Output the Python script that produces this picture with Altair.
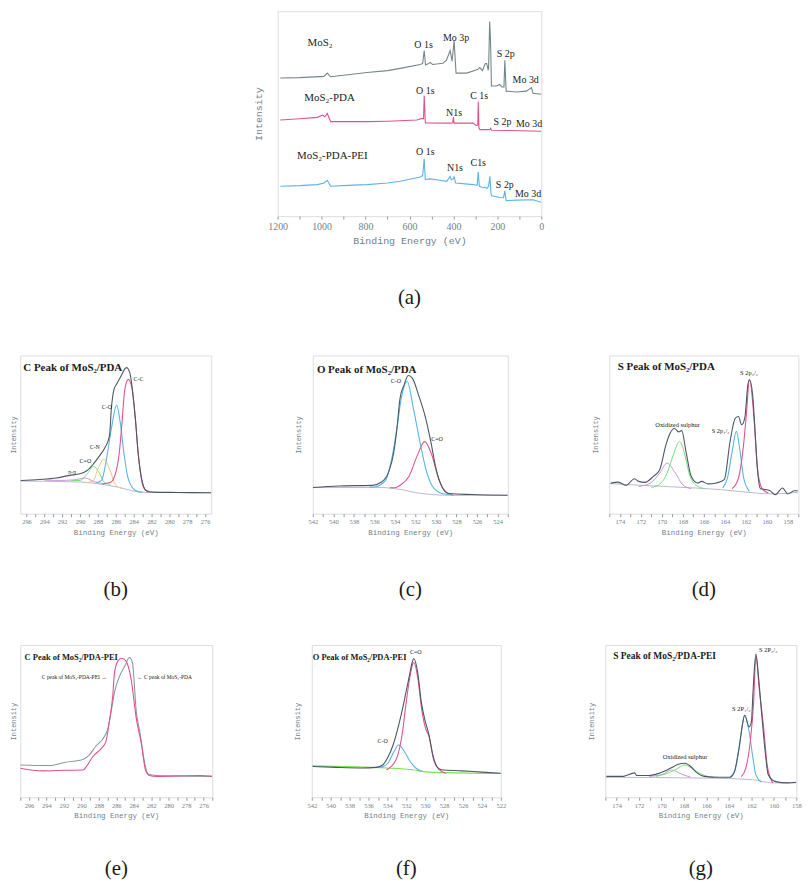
import altair as alt
import pandas as pd

SERIF = "Liberation Serif"
MONO = "Liberation Mono"
FRAME = "#8e9ba6"
AXTXT = "#6f7f8c"
INK = "#1a1a1a"

# ---------------- (a) survey spectra ----------------
a_mos2_E = [1188, 1100, 989, 974, 959, 880, 793, 700, 642, 551, 540, 533, 527, 515, 506, 495, 448, 432, 415, 406, 397, 388, 340, 290, 280, 268, 255, 249, 242, 240, 235, 231, 227, 204, 189, 180, 170, 166, 160, 113, 68, 45, 38, 0]
a_mos2_I = [67.4, 67.6, 68.2, 69.8, 68.0, 69.0, 70.1, 71.0, 72.1, 74.0, 74.5, 80.8, 73.8, 74.3, 75.0, 74.0, 74.6, 76.0, 80.8, 75.6, 85.5, 69.8, 69.8, 71.5, 72.5, 71.0, 74.5, 74.5, 71.5, 72.0, 95.0, 85.0, 63.5, 63.5, 64.3, 63.0, 63.0, 76.0, 61.0, 60.6, 61.0, 62.7, 60.0, 59.5]
a_pda_E = [1188, 1100, 1019, 996, 985, 974, 959, 880, 793, 700, 566, 544, 536, 533, 528, 527, 415, 403, 400, 397, 310, 300, 294, 289, 287, 284, 279, 234, 231, 226, 150, 0]
a_pda_I = [46.9, 47.5, 48.2, 49.3, 48.5, 50.1, 46.1, 46.2, 46.1, 46.3, 46.9, 47.7, 47.5, 58.7, 46.0, 45.5, 45.4, 45.6, 48.5, 45.4, 45.4, 44.5, 44.3, 44.5, 55.9, 43.0, 42.2, 42.2, 42.8, 41.9, 41.8, 41.4]
a_pei_E = [1188, 1100, 1019, 989, 974, 959, 880, 793, 700, 642, 551, 540, 533, 528, 520, 506, 470, 430, 415, 410, 400, 397, 390, 310, 292, 287, 282, 262, 257, 248, 240, 234, 229, 226, 189, 172, 166, 160, 113, 38, 0]
a_pei_I = [14.6, 14.9, 15.4, 16.2, 17.5, 14.6, 15.0, 15.4, 16.2, 17.0, 19.1, 19.8, 28.0, 17.8, 18.0, 18.2, 17.6, 17.0, 19.4, 17.8, 18.2, 19.4, 16.2, 15.4, 15.0, 21.7, 14.6, 13.9, 14.2, 13.5, 14.5, 19.4, 11.0, 9.9, 9.1, 9.0, 12.3, 7.6, 7.8, 8.0, 6.8]
a_name_E = [1064, 1079, 1112]
a_name_I = [84.7, 57.5, 29.1]
a_name_T = ["MoS₂", "MoS₂-PDA", "MoS₂-PDA-PEI"]
a_peak_E = [536, 388, 162, 71, 528, 397, 283, 177, 56, 528, 393, 287, 166, 60]
a_peak_I = [83.6, 86.8, 78.9, 66.3, 61.0, 50.5, 58.4, 46.1, 45.0, 31.2, 23.3, 25.7, 15.0, 11.0]
a_peak_T = ["O 1s", "Mo 3p", "S 2p", "Mo 3d", "O 1s", "N1s", "C 1s", "S 2p", "Mo 3d", "O 1s", "N1s", "C1s", "S 2p", "Mo 3d"]

# ---------------- (b) C 1s of MoS2/PDA ----------------
b_env_E = [296.65, 294.5, 292.7, 291.2, 290.0, 289.2, 288.5, 287.8, 287.3, 286.7, 286.5, 286.2, 285.9, 285.5, 284.8, 284.45, 283.8, 283.5, 283.1, 282.6, 281.85, 279.0, 275.3]
b_env_I = [21.0, 21.6, 22.5, 24.2, 25.2, 27.3, 31.5, 36.7, 40.9, 49.3, 66.0, 78.6, 82.0, 86.0, 92.3, 89.5, 59.7, 38.8, 22.0, 14.7, 13.6, 13.4, 13.2]
b_cc_E = [287.5, 286.6, 286.0, 285.6, 285.3, 285.0, 284.6, 284.2, 283.8, 283.5, 283.1, 282.7, 282.2]
b_cc_I = [18.7, 19.8, 26.0, 38.8, 57.6, 78.0, 84.9, 79.7, 59.7, 38.8, 21.0, 15.0, 13.6]
b_co_E = [288.2, 287.6, 287.1, 286.5, 285.9, 285.5, 285.1, 284.6, 283.8, 283.0]
b_co_I = [19.5, 21.0, 32.5, 53.5, 68.6, 57.7, 38.8, 22.0, 14.7, 13.5]
b_cn_E = [289.3, 288.5, 288.0, 287.3, 286.7, 286.0, 285.3]
b_cn_I = [19.5, 21.0, 28.3, 34.5, 28.3, 18.0, 16.0]
b_cdo_E = [291.0, 290.0, 289.2, 288.5, 287.8, 287.3, 286.6]
b_cdo_I = [20.8, 21.0, 25.2, 29.9, 25.2, 19.9, 18.5]
b_pi_E = [294.0, 292.3, 290.8, 289.4, 288.35, 287.3]
b_pi_I = [21.2, 21.0, 21.3, 22.5, 20.0, 19.0]
b_bg_E = [296.7, 290.0, 288.0, 285.8, 283.7, 282.5, 275.3]
b_bg_I = [20.6, 20.0, 18.9, 16.8, 14.0, 13.4, 13.2]
b_lab_E = [287.0, 288.35, 289.4, 290.9]
b_lab_I = [67.7, 42.4, 33.2, 26.3]
b_lab_T = ["C-O", "C-N", "C=O", "π-π"]
b_cc_lab_E = [284.0]
b_cc_lab_I = [85.0]
b_cc_lab_T = ["C-C"]

# ---------------- (c) O 1s of MoS2/PDA ----------------
c_env_E = [542, 539.5, 536.2, 535.3, 534.6, 534.1, 533.8, 533.5, 533.1, 532.7, 532.3, 531.7, 531.0, 530.5, 530.0, 529.4, 528.7, 526.5, 523]
c_env_I = [16.5, 17.5, 17.9, 20.0, 26.4, 39.1, 53.9, 72.9, 81.4, 87.3, 85.7, 75.1, 60.3, 45.5, 28.6, 16.9, 12.7, 12.1, 11.6]
c_co_E = [536.5, 535.9, 534.9, 534.3, 533.8, 533.4, 532.8, 532.2, 531.5, 531.0, 530.4, 529.4, 528.5]
c_co_I = [16.8, 17.0, 21.2, 34.9, 53.9, 72.0, 83.5, 66.6, 43.4, 28.6, 18.0, 12.7, 12.0]
c_cdo_E = [534.5, 534.0, 533.5, 532.65, 531.8, 531.1, 530.4, 529.75, 529.1, 528.3]
c_cdo_I = [16.4, 16.4, 18.0, 23.3, 37.0, 45.5, 37.0, 22.3, 13.8, 11.6]
c_bg_E = [542, 535.3, 533.6, 531.4, 528.4, 523]
c_bg_I = [16.5, 16.5, 15.4, 12.7, 11.6, 11.6]
c_lab_E = [533.9, 529.9]
c_lab_I = [84.0, 46.9]
c_lab_T = ["C-O", "C=O"]

# ---------------- (d) S 2p of MoS2/PDA ----------------
d_env_E = [174.85, 174.15, 173.4, 172.6, 172.2, 171.6, 170.8, 170.2, 169.6, 169.2, 168.8, 168.4, 168.1, 167.7, 167.2, 166.6, 166.2, 165.6, 164.8, 164.05, 163.5, 163.0, 162.7, 162.4, 162.1, 161.8, 161.65, 161.35, 161.1, 160.9, 160.6, 160.1, 159.7, 159.2, 158.5, 158.0, 157.4, 157.05]
d_env_I = [19.3, 19.9, 17.9, 22.1, 20.4, 19.8, 23.6, 27.8, 43.6, 51.0, 53.8, 51.7, 52.5, 39.4, 23.6, 19.4, 20.4, 18.8, 19.4, 21.5, 45.6, 60.4, 61.4, 56.2, 60.4, 81.5, 84.6, 75.2, 50.0, 28.8, 15.8, 15.2, 14.5, 12.0, 16.2, 12.4, 14.5, 14.5]
d_p32_E = [163.3, 162.7, 162.25, 161.95, 161.65, 161.2, 160.9, 160.45, 159.85]
d_p32_I = [15.8, 22.5, 41.4, 62.5, 84.6, 58.3, 28.8, 15.8, 13.1]
d_p12_E = [164.2, 163.75, 163.3, 162.9, 162.55, 162.2, 161.65]
d_p12_I = [16.2, 22.5, 39.4, 52.0, 39.4, 22.5, 14.1]
d_ox1_E = [171.0, 170.1, 169.5, 168.9, 168.3, 167.8, 167.4, 166.8, 165.9]
d_ox1_I = [16.6, 19.2, 25.6, 37.2, 45.6, 37.2, 25.6, 18.2, 15.8]
d_ox2_E = [172.2, 171.1, 170.2, 169.5, 168.7, 168.0, 167.2]
d_ox2_I = [17.2, 19.3, 25.6, 31.9, 25.6, 18.2, 15.8]
d_bg_E = [175, 169.2, 164.4, 161.0, 159.5, 157]
d_bg_I = [19.0, 17.0, 15.2, 13.0, 12.5, 13.5]
d_lab_E = [168.5, 164.4, 161.7]
d_lab_I = [56.2, 52.4, 88.8]
d_lab_T = ["Oxidized sulphur", "S 2p₁/₂", "S 2p₃/₂"]

# ---------------- (e) C 1s comparison ----------------
e_pda_E = [297, 293.7, 291.8, 290.0, 289.1, 288.3, 287.5, 286.96, 286.4, 286.2, 285.6, 285.0, 284.5, 284.15, 283.7, 283.3, 282.7, 282.35, 281.4, 275]
e_pda_I = [21.2, 20.8, 23.0, 24.5, 27.7, 33.8, 38.6, 45.1, 62.5, 69.0, 79.8, 86.3, 91.8, 88.5, 55.9, 43.0, 21.2, 15.2, 14.3, 13.7]
e_pei_E = [297, 294.5, 291.8, 289.8, 289.3, 288.7, 287.7, 287.2, 286.8, 286.4, 286.2, 285.8, 285.4, 284.9, 284.3, 283.7, 283.1, 282.65, 282.2, 281.4, 276.4, 275]
e_pei_I = [19.0, 17.3, 17.7, 17.9, 21.2, 26.6, 32.1, 36.4, 49.5, 66.8, 82.0, 89.6, 91.3, 89.6, 77.6, 51.6, 34.3, 17.9, 14.3, 13.7, 14.3, 13.7]
e_lab_E = [287.1, 283.6]
e_lab_I = [78.8, 78.8]
e_lab_T = ["C peak of MoS₂-PDA-PEI →", "← C peak of MoS₂-PDA"]

# ---------------- (f) O 1s of MoS2/PDA-PEI ----------------
f_env_E = [541.9, 539.4, 536.6, 535.2, 534.5, 534.0, 533.4, 532.9, 532.4, 532.0, 531.7, 531.4, 531.2, 530.8, 530.4, 530.0, 529.6, 529.2, 528.8, 528.3, 526.1, 524, 522]
f_env_I = [20.2, 19.6, 19.2, 19.6, 21.2, 25.6, 34.3, 45.1, 58.0, 70.1, 79.0, 88.0, 91.1, 82.0, 62.0, 50.0, 41.0, 28.0, 20.5, 18.0, 17.3, 16.5, 15.8]
f_cdo_E = [534.1, 533.6, 532.9, 532.4, 532.0, 531.7, 531.4, 531.2, 530.8, 530.4, 530.0, 529.6, 529.1, 528.5, 527.8]
f_cdo_I = [17.9, 20.2, 27.7, 43.0, 63.0, 76.0, 86.0, 88.5, 79.0, 59.0, 46.0, 40.0, 24.5, 18.0, 15.8]
f_co_E = [534.65, 533.95, 533.4, 532.8, 532.2, 531.7, 531.0, 530.3]
f_co_I = [19.6, 22.3, 28.8, 34.3, 30.0, 24.5, 19.2, 16.9]
f_bg_E = [542, 534.1, 531.3, 529.6, 522]
f_bg_I = [20.6, 19.2, 18.0, 16.5, 15.6]
f_lab_E = [534.5, 531.0]
f_lab_I = [36.9, 95.5]
f_lab_T = ["C-O", "C=O"]

# ---------------- (g) S 2p of MoS2/PDA-PEI ----------------
g_env_E = [174.9, 173.4, 172.4, 172.2, 171.1, 170.2, 169.5, 168.9, 168.5, 167.9, 167.4, 166.8, 166.2, 164.8, 163.9, 163.5, 163.1, 162.8, 162.6, 162.2, 162.0, 161.85, 161.6, 161.35, 161.1, 160.8, 160.5, 159.9, 158.8, 158.0]
g_env_I = [13.7, 13.7, 16.0, 14.3, 14.3, 15.8, 17.9, 20.2, 21.7, 22.3, 20.2, 15.8, 13.7, 13.1, 13.1, 16.9, 32.1, 47.3, 53.8, 46.2, 49.5, 70.0, 94.0, 78.0, 56.0, 32.1, 14.7, 10.4, 9.4, 9.8]
g_p32_E = [162.9, 162.5, 162.1, 161.8, 161.6, 161.3, 160.9, 160.6, 160.1]
g_p32_I = [13.5, 19.1, 36.4, 62.5, 93.0, 71.0, 45.0, 21.2, 9.4]
g_p12_E = [163.9, 163.5, 163.1, 162.6, 162.2, 161.9, 161.6, 161.1]
g_p12_I = [13.1, 16.9, 32.1, 53.8, 43.0, 27.7, 14.7, 9.8]
g_ox1_E = [170.5, 169.7, 168.8, 167.9, 167.1, 166.2, 165.4]
g_ox1_I = [13.7, 15.1, 17.9, 21.2, 17.9, 14.3, 13.1]
g_ox2_E = [171.1, 169.9, 169.1, 168.2, 167.4]
g_ox2_I = [13.7, 15.1, 17.9, 15.1, 13.1]
g_bg_E = [175, 166.2, 161.9, 160.1, 158]
g_bg_I = [13.1, 12.6, 11.5, 9.4, 9.4]
g_lab_E = [167.9, 162.9, 160.5]
g_lab_I = [26.2, 58.1, 97.0]
g_lab_T = ["Oxidized sulphur", "S 2P₁/₂", "S 2P₃/₂"]

# ---------------- colours ----------------
C_ENV = "#4b5763"
C_PINK = "#e0528c"
C_BLUE = "#5ab4e6"
C_TAN = "#e9c27e"
C_GREEN = "#6fe07a"
C_PURP = "#cf94d6"
C_BG = "#b9b8cf"
C_GRAY = "#75858a"


def panel(curves, texts, domain, xvals, labelstep, width, height, caption, cap_offset,
          ypad, yfs, lab_fs, tit_fs, tit_pad=3, ttl_title="Binding Energy (eV)"):
    xs = alt.Scale(domain=domain, nice=False, zero=False)
    ys = alt.Scale(domain=[0, 100], nice=False, zero=False)
    xa = alt.Axis(title=ttl_title, values=xvals,
                  labelExpr=f"datum.value % {labelstep} == 0 ? datum.label : ''",
                  grid=False, domain=False, ticks=True, tickColor=FRAME, tickSize=3,
                  labelFont=SERIF, labelFontSize=lab_fs, labelColor=AXTXT, labelPadding=2,
                  labelFlush=False, labelOverlap=False, format="d",
                  titleFont=MONO, titleFontSize=tit_fs, titleColor=AXTXT,
                  titleFontWeight="normal", titlePadding=tit_pad)
    ya = alt.Axis(title="Intensity", labels=False, ticks=False, domain=False, grid=False,
                  titleFont=MONO, titleFontSize=yfs, titleColor=AXTXT,
                  titleFontWeight="normal", titlePadding=ypad)
    layers = []
    for E, I, col, sw, interp in curves:
        df = pd.DataFrame({"E": E, "I": I})
        layers.append(alt.Chart(df).mark_line(color=col, strokeWidth=sw, interpolate=interp, clip=True)
                      .encode(x=alt.X("E:Q", scale=xs, axis=xa), y=alt.Y("I:Q", scale=ys, axis=ya)))
    for E, I, T, fs, align, weight in texts:
        df = pd.DataFrame({"E": E, "I": I, "T": T})
        layers.append(alt.Chart(df).mark_text(font=SERIF, fontSize=fs, align=align, baseline="middle",
                                               fontWeight=weight, color=INK)
                      .encode(x=alt.X("E:Q", scale=xs, axis=xa), y=alt.Y("I:Q", scale=ys, axis=ya),
                              text="T:N"))
    return alt.layer(*layers).properties(
        width=width, height=height,
        title=alt.TitleParams(caption, orient="bottom", offset=cap_offset, fontSize=21,
                              font=SERIF, fontWeight="normal", color=INK, anchor="middle",
                              frame="group"))


M = "monotone"
L = "linear"

pa = panel(
    [(a_mos2_E, a_mos2_I, C_GRAY, 1.1, L), (a_pda_E, a_pda_I, C_PINK, 1.1, L), (a_pei_E, a_pei_I, C_BLUE, 1.1, L)],
    [(a_name_E, a_name_I, a_name_T, 11, "left", "normal"),
     (a_peak_E, a_peak_I, a_peak_T, 10, "center", "normal")],
    [1200, 0], list(range(0, 1201, 100)), 200, 265, 206, "(a)", 42, 14, 10, 10, 10, 4)

pb = panel(
    [(b_bg_E, b_bg_I, C_BG, 1, M), (b_pi_E, b_pi_I, C_PURP, 1, M), (b_cdo_E, b_cdo_I, C_GREEN, 1, M),
     (b_cn_E, b_cn_I, C_TAN, 1, M), (b_co_E, b_co_I, C_BLUE, 1.1, M), (b_cc_E, b_cc_I, C_PINK, 1.1, M),
     (b_env_E, b_env_I, C_ENV, 1.1, M)],
    [(b_lab_E, b_lab_I, b_lab_T, 6, "center", "normal"),
     (b_cc_lab_E, b_cc_lab_I, b_cc_lab_T, 6, "left", "normal"),
     ([296.36], [92.3], ["C Peak of MoS₂/PDA"], 11, "left", "bold")],
    [296.7, 275.3], list(range(276, 297)), 2, 192, 159, "(b)", 44, 4, 7, 6.5, 7.5)

pc = panel(
    [(c_bg_E, c_bg_I, C_BG, 1, M), (c_cdo_E, c_cdo_I, C_PINK, 1.1, M), (c_co_E, c_co_I, C_BLUE, 1.1, M),
     (c_env_E, c_env_I, C_ENV, 1.1, M)],
    [(c_lab_E, c_lab_I, c_lab_T, 6, "center", "normal"),
     ([541.6], [90.9], ["O Peak of MoS₂/PDA"], 11, "left", "bold")],
    [542, 523], list(range(523, 543)), 2, 196, 159, "(c)", 44, 11, 7, 6.5, 7.5)

pd_ = panel(
    [(d_bg_E, d_bg_I, C_BG, 1, M), (d_ox2_E, d_ox2_I, C_PURP, 1, M), (d_ox1_E, d_ox1_I, C_GREEN, 1, M),
     (d_p12_E, d_p12_I, C_BLUE, 1.1, M), (d_p32_E, d_p32_I, C_PINK, 1.1, M),
     (d_env_E, d_env_I, C_ENV, 1.1, M)],
    [(d_lab_E, d_lab_I, d_lab_T, 6.5, "center", "normal"),
     ([174.2], [93.0], ["S Peak of MoS₂/PDA"], 11, "left", "bold")],
    [175, 157], list(range(157, 176)), 2, 190, 159, "(d)", 44, 11, 7, 6.5, 7.5)

pe = panel(
    [(e_pda_E, e_pda_I, "#8a9a9c", 1.1, M), (e_pei_E, e_pei_I, C_PINK, 1.1, M)],
    [([e_lab_E[0]], [e_lab_I[0]], [e_lab_T[0]], 5.5, "right", "normal"),
     ([e_lab_E[1]], [e_lab_I[1]], [e_lab_T[1]], 5.5, "left", "normal"),
     ([296.5], [91.8], ["C Peak of MoS₂/PDA-PEI"], 8.5, "left", "bold")],
    [297, 275], list(range(275, 298)), 2, 193, 153, "(e)", 39, 4, 7, 6.5, 7.5)

pf = panel(
    [(f_bg_E, f_bg_I, "#7ee04e", 1.1, M), (f_co_E, f_co_I, C_BLUE, 1.1, M), (f_cdo_E, f_cdo_I, C_PINK, 1.1, M),
     (f_env_E, f_env_I, C_ENV, 1.1, M)],
    [(f_lab_E, f_lab_I, f_lab_T, 6, "center", "normal"),
     ([541.9], [91.8], ["O Peak of MoS₂/PDA-PEI"], 8.5, "left", "bold")],
    [542, 522], list(range(522, 543)), 2, 190, 153, "(f)", 39, 11, 7, 6.5, 7.5)

pg = panel(
    [(g_bg_E, g_bg_I, C_BG, 1, M), (g_ox2_E, g_ox2_I, C_PURP, 1, M), (g_ox1_E, g_ox1_I, C_GREEN, 1, M),
     (g_p12_E, g_p12_I, C_BLUE, 1.1, M), (g_p32_E, g_p32_I, C_PINK, 1.1, M),
     (g_env_E, g_env_I, C_ENV, 1.1, M)],
    [(g_lab_E, g_lab_I, g_lab_T, 6.5, "center", "normal"),
     ([174.3], [92.6], ["S Peak of MoS₂/PDA-PEI"], 9.5, "left", "bold")],
    [175, 158], list(range(158, 176)), 2, 192, 153, "(g)", 39, 11, 7, 6.5, 7.5)

row2 = alt.hconcat(pb, pc, pd_, spacing=82)
row3 = alt.hconcat(pe, pf, pg, spacing=80)
lower = alt.vconcat(row2, row3, spacing=43)

chart = alt.vconcat(pa, lower, spacing=46, center=True).properties(
    padding={"left": 0, "top": 0, "right": 0, "bottom": 0}
).configure_view(stroke=FRAME, strokeWidth=1).configure(background="white")

chart.save("out.html", embed_options={"renderer": "svg", "actions": False})
